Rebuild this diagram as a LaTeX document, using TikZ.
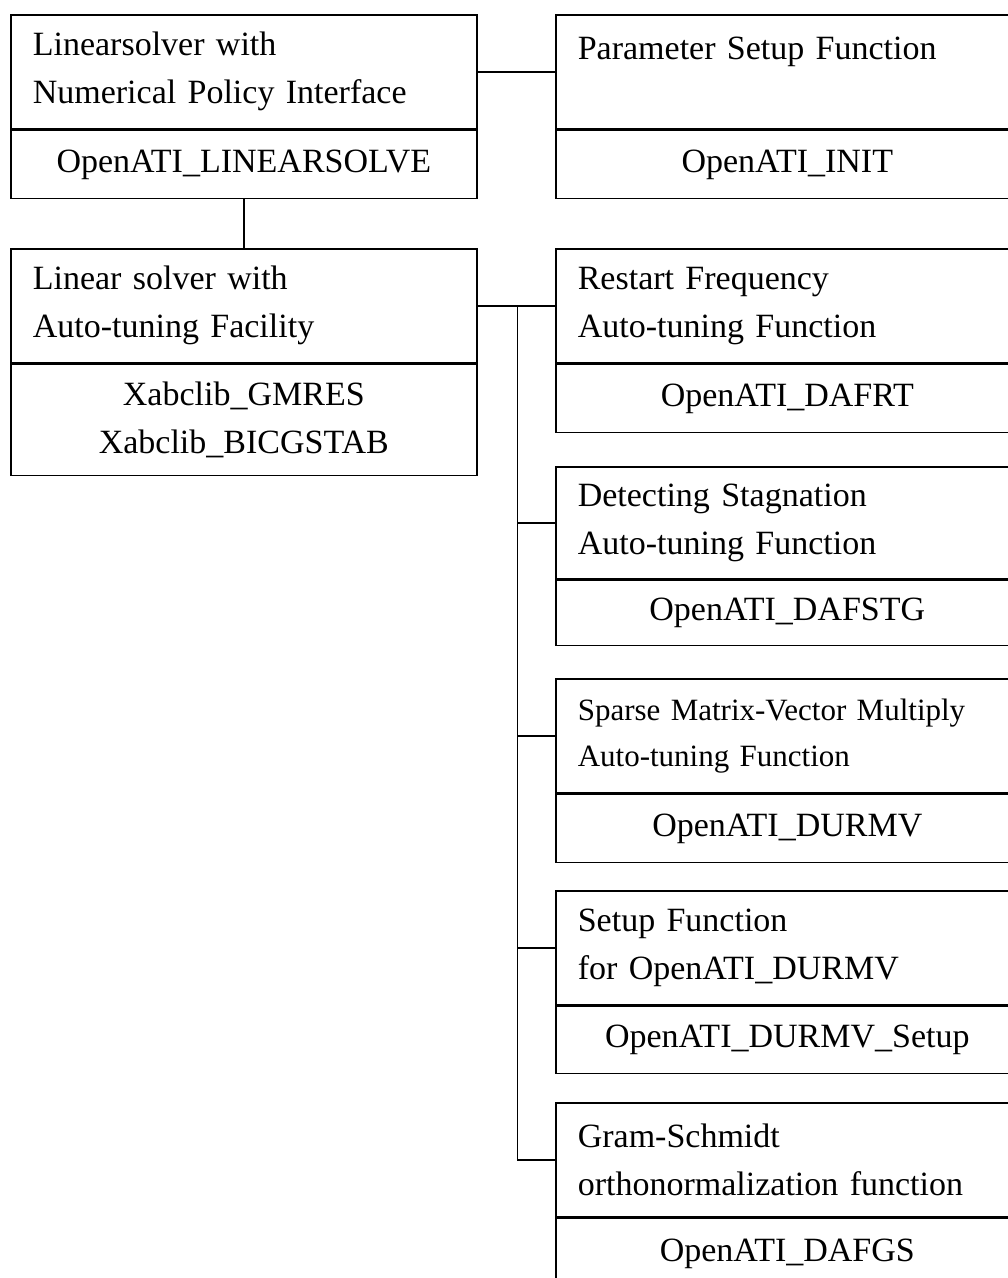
\documentclass[tikz,border=0pt]{standalone}
\usepackage{fontspec}
\setmainfont{Liberation Serif}
\usetikzlibrary{positioning}

\tikzset{
  part/.style={draw, line width=1.6pt, inner xsep=22pt, inner ysep=0pt,
    font=\fontsize{34}{48}\selectfont},
  upper/.style={part, anchor=north west, align=left, minimum height=114pt},
  lower/.style={part, align=center, minimum height=68pt},
  leftcol/.style={text width=422pt},
  rightcol/.style={text width=419pt},
  link/.style={line width=1.6pt},
}

\begin{document}
\begin{tikzpicture}[x=1pt,y=-1pt]
\useasboundingbox (0,0) rectangle (1008,1278);

\node[upper,leftcol] (atop) at (10,14) {Linearsolver with\\Numerical Policy Interface};
\node[lower,leftcol,below=0pt of atop] (abot) {OpenATI\_LINEARSOLVE};

\node[upper,rightcol] (btop) at (555,14) {Parameter Setup Function\\\mbox{}};
\node[lower,rightcol,below=0pt of btop] (bbot) {OpenATI\_INIT};

\node[upper,leftcol] (ctop) at (10,248) {Linear solver with\\Auto-tuning Facility};
\node[lower,leftcol,below=0pt of ctop,minimum height=111pt] (cbot) {Xabclib\_GMRES\\Xabclib\_BICGSTAB};

\node[upper,rightcol,minimum height=114pt] (dtop) at (555,248) {Restart Frequency\\Auto-tuning Function};
\node[lower,rightcol,below=0pt of dtop] (dbot) {OpenATI\_DAFRT};

\node[upper,rightcol,minimum height=112pt] (etop) at (555,466) {Detecting Stagnation\\Auto-tuning Function};
\node[lower,rightcol,below=0pt of etop,minimum height=65pt] (ebot) {OpenATI\_DAFSTG};

\node[upper,rightcol,font=\fontsize{31}{46}\selectfont] (ftop) at (555,678) {Sparse Matrix-Vector Multiply\\Auto-tuning Function};
\node[lower,rightcol,below=0pt of ftop] (fbot) {OpenATI\_DURMV};

\node[upper,rightcol] (gtop) at (555,890) {Setup Function\\for OpenATI\_DURMV};
\node[lower,rightcol,below=0pt of gtop,minimum height=67pt] (gbot) {OpenATI\_DURMV\_Setup};

\node[upper,rightcol] (htop) at (555,1102) {Gram-Schmidt\\orthonormalization function};
\node[lower,rightcol,below=0pt of htop,minimum height=70pt] (hbot) {OpenATI\_DAFGS};

\draw[link] (atop.east) -- (btop.west);
\draw[link] (abot.south) -- (ctop.north);
\draw[link] (ctop.east) -- (dtop.west);
\coordinate[right=40pt of ctop.east] (fork);
\foreach \n in {etop,ftop,gtop,htop}
  \draw[link] (fork) |- (\n.west);
\end{tikzpicture}
\end{document}
